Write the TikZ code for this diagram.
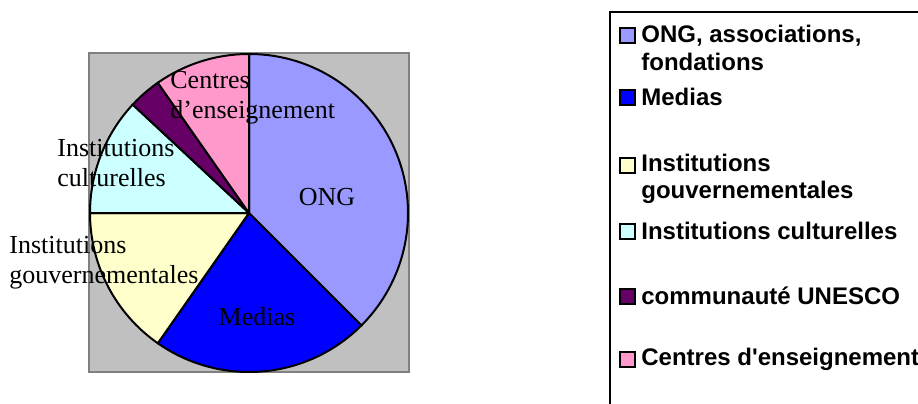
\documentclass[tikz,border=0pt]{standalone}
\usepackage{fontspec}
\setmainfont{Liberation Serif}
\newfontfamily\legendfont{Liberation Sans}[Ligatures=TeXOff]
\usepackage{xcolor}
\definecolor{ongblue}{HTML}{9999FF}
\definecolor{mediablue}{HTML}{0000FF}
\definecolor{govyellow}{HTML}{FFFFCC}
\definecolor{cultcyan}{HTML}{CCFFFF}
\definecolor{unescopurple}{HTML}{660066}
\definecolor{schoolpink}{HTML}{FF99CC}
\definecolor{plotgrey}{HTML}{C0C0C0}
\usetikzlibrary{positioning}

\begin{document}
\begin{tikzpicture}[
  x=0.5pt, y=0.5pt,
  slice/.style={draw=black, line width=1pt, line join=round},
  pielabel/.style={inner sep=0pt, align=left, font=\fontsize{13}{15}\selectfont},
  swatch/.style={draw=black, line width=1pt, minimum size=7.5pt, inner sep=0pt},
  legendtext/.style={inner sep=0pt, anchor=west, align=left, font=\legendfont\bfseries\fontsize{12}{13.75}\selectfont}
]
\clip (0,0) rectangle (918,403);

% plot area
\draw[draw=gray, fill=plotgrey, line width=1pt] (89,350) rectangle (409,31);

% pie slices
\coordinate (c) at (249,190);
\draw[slice, fill=ongblue] (c) -- ++(90:159) arc[start angle=90, end angle=-45, radius=159] -- cycle;
\draw[slice, fill=mediablue] (c) -- ++(-45:159) arc[start angle=-45, end angle=-125, radius=159] -- cycle;
\draw[slice, fill=govyellow] (c) -- ++(-125:159) arc[start angle=-125, end angle=-180, radius=159] -- cycle;
\draw[slice, fill=cultcyan] (c) -- ++(180:159) arc[start angle=180, end angle=137, radius=159] -- cycle;
\draw[slice, fill=unescopurple] (c) -- ++(137:159) arc[start angle=137, end angle=125, radius=159] -- cycle;
\draw[slice, fill=schoolpink] (c) -- ++(125:159) arc[start angle=125, end angle=90, radius=159] -- cycle;

% pie labels
\node[pielabel] (lOng) at (327,206) {ONG};
\node[pielabel] (lMedias) at (257,86) {Medias};
\node[pielabel, anchor=west] (lGouv) at (9,140) {Institutions\\gouvernementales};
\node[pielabel, anchor=west] (lCult) at (57,240) {Institutions\\culturelles};
\node[pielabel, anchor=west] (lCentres) at (170,305) {Centres\\d’enseignement};

% legend
\draw[line width=1pt] (610,391) rectangle (960,-40);

\node[swatch, fill=ongblue] (s1) at (627,368) {};
\node[legendtext] (t1) at (641,355) {ONG, associations,\\fondations};
\node[swatch, fill=mediablue] (s2) at (627,306) {};
\node[legendtext] (t2) at (641,306) {Medias};
\node[swatch, fill=govyellow] (s3) at (627,238) {};
\node[legendtext] (t3) at (641,224) {Institutions\\gouvernementales};
\node[swatch, fill=cultcyan] (s4) at (627,172) {};
\node[legendtext] (t4) at (641,172) {Institutions culturelles};
\node[swatch, fill=unescopurple] (s5) at (627,107) {};
\node[legendtext] (t5) at (641,107) {communauté UNESCO};
\node[swatch, fill=schoolpink] (s6) at (627,44) {};
\node[legendtext] (t6) at (641,44) {Centres d'enseignement};
\end{tikzpicture}
\end{document}
